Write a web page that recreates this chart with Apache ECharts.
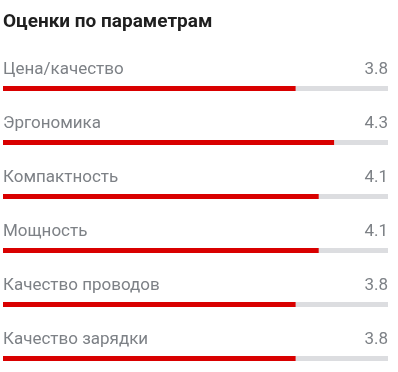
<!DOCTYPE html>
<html><head><meta charset="utf-8">
<script src="https://cdn.jsdelivr.net/npm/echarts@6/dist/echarts.min.js"></script>
<style>html,body{margin:0;padding:0;background:#fff}#c{width:398px;height:372px}</style>
</head><body><div id="c"></div>
<script>
const titleText = 'Оценки по параметрам';
const categories = ['Цена/качество','Эргономика','Компактность','Мощность','Качество проводов','Качество зарядки'];
const values = [3.8, 4.3, 4.1, 4.1, 3.8, 3.8];
const maxScore = 5;

const chart = echarts.init(document.getElementById('c'), null, {renderer:'canvas'});
const font = 'Roboto';
const lbl = {inside:true,margin:0,color:'#7d8186',fontFamily:font,fontSize:17,verticalAlign:'bottom',lineHeight:38};
chart.setOption({
  animation:false,
  title:{text:titleText,left:3,top:13,padding:0,textStyle:{fontFamily:font,fontSize:19,fontWeight:'bold',color:'#1f1f1f'}},
  grid:{left:2,right:10,top:88.5,bottom:13.5,containLabel:false},
  xAxis:{type:'value',min:0,max:maxScore,show:false},
  yAxis:[
    {type:'category',data:categories,inverse:true,position:'left',boundaryGap:false,
     axisLine:{show:false},axisTick:{show:false},axisLabel:lbl},
    {type:'category',data:values.map(v=>v.toFixed(1)),inverse:true,position:'right',boundaryGap:false,
     axisLine:{show:false},axisTick:{show:false},axisLabel:lbl}
  ],
  series:[{type:'bar',data:values,barWidth:5,yAxisIndex:0,
    itemStyle:{color:'#d90000'},
    showBackground:true,backgroundStyle:{color:'#dcdde0'}}]
});
</script></body></html>
